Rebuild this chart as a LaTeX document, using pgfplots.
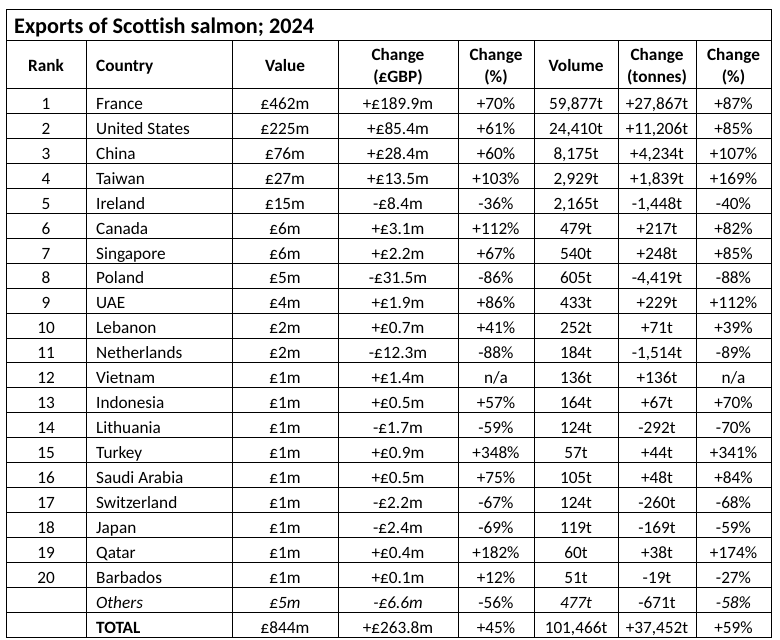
\documentclass[border=0pt]{standalone}
\usepackage{pgfplots}
\pgfplotsset{compat=1.18}
\usepackage{pgfplotstable}
\usepackage{fontspec}
\setmainfont{Carlito}[Ligatures={NoCommon}]

\pgfplotstableread[col sep=semicolon]{
rank;country;value;chg;chgp;vol;chgt;chgtp
1;France;£462m;+£189.9m;+70\%;59,877t;+27,867t;+87\%
2;United States;£225m;+£85.4m;+61\%;24,410t;+11,206t;+85\%
3;China;£76m;+£28.4m;+60\%;8,175t;+4,234t;+107\%
4;Taiwan;£27m;+£13.5m;+103\%;2,929t;+1,839t;+169\%
5;Ireland;£15m;-£8.4m;-36\%;2,165t;-1,448t;-40\%
6;Canada;£6m;+£3.1m;+112\%;479t;+217t;+82\%
7;Singapore;£6m;+£2.2m;+67\%;540t;+248t;+85\%
8;Poland;£5m;-£31.5m;-86\%;605t;-4,419t;-88\%
9;UAE;£4m;+£1.9m;+86\%;433t;+229t;+112\%
10;Lebanon;£2m;+£0.7m;+41\%;252t;+71t;+39\%
11;Netherlands;£2m;-£12.3m;-88\%;184t;-1,514t;-89\%
12;Vietnam;£1m;+£1.4m;n/a;136t;+136t;n/a
13;Indonesia;£1m;+£0.5m;+57\%;164t;+67t;+70\%
14;Lithuania;£1m;-£1.7m;-59\%;124t;-292t;-70\%
15;Turkey;£1m;+£0.9m;+348\%;57t;+44t;+341\%
16;Saudi Arabia;£1m;+£0.5m;+75\%;105t;+48t;+84\%
17;Switzerland;£1m;-£2.2m;-67\%;124t;-260t;-68\%
18;Japan;£1m;-£2.4m;-69\%;119t;-169t;-59\%
19;Qatar;£1m;+£0.4m;+182\%;60t;+38t;+174\%
20;Barbados;£1m;+£0.1m;+12\%;51t;-19t;-27\%
{};\textit{Others};\textit{£5m};\textit{-£6.6m};-56\%;\textit{477t};-671t;\textit{-58\%}
{};\textbf{TOTAL};£844m;+£263.8m;+45\%;101,466t;+37,452t;+59\%
}\datatable

\newcommand{\bodyfont}{\fontsize{17.3}{20}\selectfont}

\begin{document}
\begin{tikzpicture}
\begin{axis}[
  scale only axis, width=780bp, height=639bp,
  xmin=0, xmax=780, ymin=0, ymax=639, y dir=reverse,
  axis lines=none, clip=false,
  every node near coord/.append style={font=\bodyfont, inner sep=0pt, text=black},
  cell/.style={draw=none, mark=none, forget plot, nodes near coords,
    point meta=explicit symbolic, nodes near coords align={anchor=base}},
  lcell/.style={draw=none, mark=none, forget plot, nodes near coords,
    point meta=explicit symbolic, nodes near coords align={anchor=base west}},
]
\addplot[draw=none, forget plot] coordinates {(0,0) (780,639)};
% grid lines
\pgfplotsinvokeforeach{9.5,40.5,88.5,113.45,138.4,163.35,188.3,213.25,238.2,263.15,288.1,313.05,338.0,362.95,387.9,412.85,437.8,462.75,487.7,512.65,537.6,562.55,587.5,612.45,637.4}{
  \addplot[black, line width=1bp, line cap=rect, forget plot] coordinates {(6,#1) (771,#1)};
}
\pgfplotsinvokeforeach{6,771}{
  \addplot[black, line width=1bp, line cap=rect, forget plot] coordinates {(#1,9.5) (#1,637.4)};
}
\pgfplotsinvokeforeach{86,232,338,458,534,618,696}{
  \addplot[black, line width=1bp, forget plot] coordinates {(#1,40.5) (#1,637.4)};
}
% title and headers
\node[anchor=base west, inner sep=0pt, font=\bfseries\fontsize{22.3}{26}\selectfont] at (axis cs:14,33.5) {Exports of Scottish salmon; 2024};
\begin{scope}[every node/.style={anchor=base, inner sep=0pt, font=\bfseries\bodyfont}]
\node at (axis cs:46,71.5) {Rank};
\node[anchor=base west] at (axis cs:96,71.5) {Country};
\node at (axis cs:285,71.5) {Value};
\node at (axis cs:398,61) {Change};
\node at (axis cs:398,82) {(£GBP)};
\node at (axis cs:496,61) {Change};
\node at (axis cs:496,82) {(\%)};
\node at (axis cs:576,71.5) {Volume};
\node at (axis cs:657,61) {Change};
\node at (axis cs:657,82) {(tonnes)};
\node at (axis cs:733.5,61) {Change};
\node at (axis cs:733.5,82) {(\%)};
\end{scope}
% data cells
\addplot[cell] table[x expr=46, y expr=\coordindex*24.95+109.3, meta=rank] {\datatable};
\addplot[lcell] table[x expr=96, y expr=\coordindex*24.95+109.3, meta=country] {\datatable};
\addplot[cell] table[x expr=285, y expr=\coordindex*24.95+109.3, meta=value] {\datatable};
\addplot[cell] table[x expr=398, y expr=\coordindex*24.95+109.3, meta=chg] {\datatable};
\addplot[cell] table[x expr=496, y expr=\coordindex*24.95+109.3, meta=chgp] {\datatable};
\addplot[cell] table[x expr=576, y expr=\coordindex*24.95+109.3, meta=vol] {\datatable};
\addplot[cell] table[x expr=657, y expr=\coordindex*24.95+109.3, meta=chgt] {\datatable};
\addplot[cell] table[x expr=733.5, y expr=\coordindex*24.95+109.3, meta=chgtp] {\datatable};
\end{axis}
\end{tikzpicture}
\end{document}
